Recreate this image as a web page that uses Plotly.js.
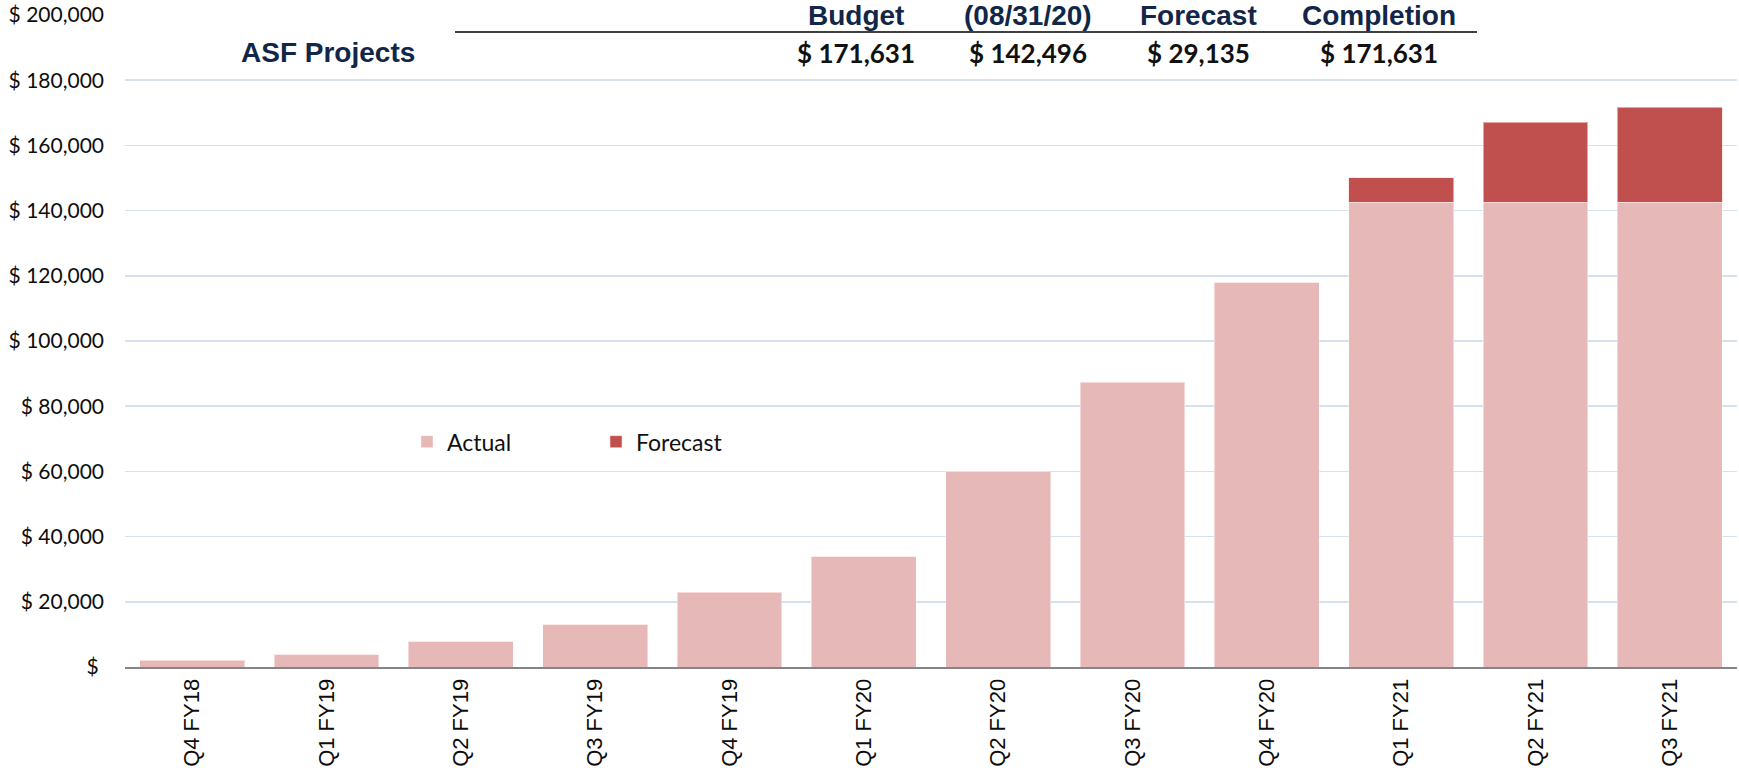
<!DOCTYPE html>
<html>
<head>
<meta charset="utf-8">
<script src="https://cdn.plot.ly/plotly-3.0.1.min.js"></script>
<style>html,body{margin:0;padding:0;background:#fff;}#chart{width:1739px;height:771px;}</style>
</head>
<body>
<div id="chart"></div>
<script>
// ---- data ----
const categories = ["Q4 FY18","Q1 FY19","Q2 FY19","Q3 FY19","Q4 FY19","Q1 FY20","Q2 FY20","Q3 FY20","Q4 FY20","Q1 FY21","Q2 FY21","Q3 FY21"];
const actualValues = [2050, 3750, 7800, 13000, 22900, 33800, 60000, 87300, 117900, 142496, 142496, 142496];
const forecastValues = [0, 0, 0, 0, 0, 0, 0, 0, 0, 7550, 24650, 29135];
const yTickValues = [0, 20000, 40000, 60000, 80000, 100000, 120000, 140000, 160000, 180000, 200000];
const yTickLabels = ["$\u00a0", "$ 20,000", "$ 40,000", "$ 60,000", "$ 80,000", "$ 100,000", "$ 120,000", "$ 140,000", "$ 160,000", "$ 180,000", "$ 200,000"];
const headerLabels = ["Budget", "(08/31/20)", "Forecast", "Completion"];
const headerValues = [171631, 142496, 29135, 171631];
const tableTitle = "ASF Projects";

// ---- layout helpers (pixel -> paper) ----
const W = 1739, H = 771;
const M = {l: 125, r: 2, t: 15, b: 104};
const PW = W - M.l - M.r, PH = H - M.t - M.b;
const px = x => (x - M.l) / PW;
const py = y => (H - M.b - y) / PH;
const fmt = v => "$ " + v.toLocaleString("en-US");

const headerX = [856, 1028, 1198, 1379];

const annotations = [];
annotations.push({xref:"paper", yref:"paper", x: px(328), y: py(52), text: "<b>" + tableTitle + "</b>",
  showarrow:false, xanchor:"center", yanchor:"middle",
  font:{family:"Liberation Sans, Arial, sans-serif", size:28, color:"#122647"}});
headerLabels.forEach((t, i) => {
  annotations.push({xref:"paper", yref:"paper", x: px(headerX[i]), y: py(15), text: "<b>" + t + "</b>",
    showarrow:false, xanchor:"center", yanchor:"middle",
    font:{family:"Liberation Sans, Arial, sans-serif", size:28, color:"#122647"}});
  annotations.push({xref:"paper", yref:"paper", x: px(headerX[i]), y: py(53), text: "<b>" + fmt(headerValues[i]) + "</b>",
    showarrow:false, xanchor:"center", yanchor:"middle",
    font:{family:"Lato, sans-serif", size:26, color:"#111111"}});
});

const shapes = [
  {type:"rect", xref:"paper", yref:"paper", x0: px(453), x1: px(1478), y0: py(30), y1: py(0),
   fillcolor:"#ffffff", line:{width:0}, layer:"above"},
  {type:"line", xref:"paper", yref:"paper", x0: px(455), x1: px(1477), y0: py(32), y1: py(32),
   line:{color:"#000000", width:1.5}, layer:"above"}
];

const traces = [
  {type:"bar", name:"Actual", x: categories, y: actualValues,
   marker:{color:"#e6b8b7", line:{color:"rgba(255,255,255,0.45)", width:1}}, hoverinfo:"x+y"},
  {type:"bar", name:"Forecast", x: categories, y: forecastValues,
   marker:{color:"#c0504d", line:{color:"rgba(255,220,220,0.6)", width:1}}, hoverinfo:"x+y"}
];

const layout = {
  width: W, height: H,
  margin: M,
  paper_bgcolor:"#ffffff", plot_bgcolor:"#ffffff",
  barmode:"stack", bargap:0.22,
  showlegend:true,
  legend:{orientation:"h", x: px(407), y: py(441.7), xanchor:"left", yanchor:"middle",
    bgcolor:"rgba(0,0,0,0)", font:{family:"Lato, sans-serif", size:23, color:"#111111"},
    entrywidth:144, entrywidthmode:"pixels", traceorder:"normal"},
  xaxis:{type:"category", tickangle:-90, showgrid:false, showline:true, linecolor:"#858585", linewidth:2,
    ticks:"", ticklabelstandoff:1,
    tickfont:{family:"Liberation Sans, Arial, sans-serif", size:22, color:"#0d0d0d"}, fixedrange:true},
  yaxis:{range:[0, 200000], tickvals: yTickValues, ticktext: yTickLabels, showgrid:true,
    gridcolor:"#d6e1ef", gridwidth:1.5, zeroline:false, showline:false, ticks:"", ticklabelstandoff:20,
    tickfont:{family:"Lato, sans-serif", size:21, color:"#0d0d0d"}, fixedrange:true},
  annotations: annotations,
  shapes: shapes
};

Plotly.newPlot("chart", traces, layout, {displayModeBar:false, staticPlot:true});
</script>
</body>
</html>
